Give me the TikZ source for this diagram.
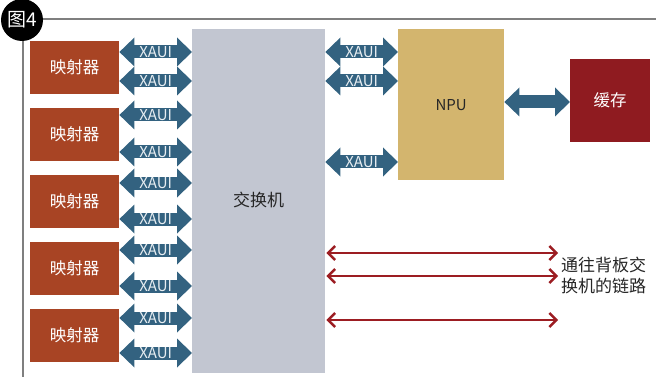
\documentclass[tikz,border=0pt]{standalone}
\usepackage{fontspec}
\setmainfont{Noto Sans CJK SC}
\usetikzlibrary{arrows.meta}
\definecolor{mapc}{HTML}{A84424}
\definecolor{swc}{HTML}{C2C6D1}
\definecolor{npuc}{HTML}{D3B56E}
\definecolor{cachec}{HTML}{8F1B20}
\definecolor{arrc}{HTML}{336280}
\definecolor{linkc}{HTML}{9C1D22}
\definecolor{framec}{HTML}{7F7F7F}
\definecolor{labc}{HTML}{E8EEF2}
\begin{document}
\begin{tikzpicture}[x=1pt,y=-1pt,
  box/.style={draw=none, inner sep=0pt, anchor=north west},
  mapbox/.style={box, fill=mapc, text=white, minimum width=89pt, minimum height=53pt, font=\fontsize{16.5}{18}\selectfont},
  xaui/.style={draw=arrc, line width=13pt, {Triangle[length=15pt,width=29pt,line width=0pt]}-{Triangle[length=15pt,width=29pt,line width=0pt]}, arrc},
  xlab/.style={text=labc, inner sep=0pt, font=\fontsize{15}{15}\selectfont},
  link/.style={draw=linkc, line width=2.4pt, {Straight Barb[length=7pt,width=14pt,line width=2.4pt]}-{Straight Barb[length=7pt,width=14pt,line width=2.4pt]}},
  frame/.style={draw=framec, line width=1.6pt}
]
\useasboundingbox (0,0) rectangle (656,377);
% frame and badge
\node[circle, fill=black, inner sep=0pt, minimum size=42pt, text=white, font=\fontsize{19}{19}\selectfont] (badge) at (22,20) {图4};
\coordinate (ftr) at (656,19);
\coordinate (fbl) at (23,377);
\draw[frame] (badge.east |- ftr) -- (ftr);
\draw[frame] (badge.south -| fbl) -- (fbl);
% main boxes
\node[box, fill=swc, minimum width=133pt, minimum height=344pt] (sw) at (192,29) {};
\node[font=\fontsize{17}{18}\selectfont, text=black!85] (swlab) at (258.5,200) {交换机};
\node[box, fill=npuc, minimum width=106pt, minimum height=151pt, font=\fontsize{15}{16}\selectfont, text=black!85] (npu) at (398,29) {NPU};
\node[box, fill=cachec, minimum width=80pt, minimum height=83pt, text=white, font=\fontsize{16.5}{18}\selectfont] (cache) at (570,59) {缓存};
% mappers
\node[mapbox] (m1) at (30,41) {映射器};
\node[mapbox] (m2) at (30,108) {映射器};
\node[mapbox] (m3) at (30,175) {映射器};
\node[mapbox] (m4) at (30,242) {映射器};
\node[mapbox] (m5) at (30,309) {映射器};
% XAUI links mappers -> switch
\draw[xaui] (m1.east |- 0,52) -- (sw.west |- 0,52) node[midway,xlab]{XAUI};
\draw[xaui] (m1.east |- 0,81) -- (sw.west |- 0,81) node[midway,xlab]{XAUI};
\draw[xaui] (m2.east |- 0,115) -- (sw.west |- 0,115) node[midway,xlab]{XAUI};
\draw[xaui] (m2.east |- 0,152) -- (sw.west |- 0,152) node[midway,xlab]{XAUI};
\draw[xaui] (m3.east |- 0,183) -- (sw.west |- 0,183) node[midway,xlab]{XAUI};
\draw[xaui] (m3.east |- 0,219) -- (sw.west |- 0,219) node[midway,xlab]{XAUI};
\draw[xaui] (m4.east |- 0,250) -- (sw.west |- 0,250) node[midway,xlab]{XAUI};
\draw[xaui] (m4.east |- 0,286) -- (sw.west |- 0,286) node[midway,xlab]{XAUI};
\draw[xaui] (m5.east |- 0,318) -- (sw.west |- 0,318) node[midway,xlab]{XAUI};
\draw[xaui] (m5.east |- 0,353) -- (sw.west |- 0,353) node[midway,xlab]{XAUI};
% switch -> NPU
\draw[xaui] (sw.east |- 0,52) -- (npu.west |- 0,52) node[midway,xlab]{XAUI};
\draw[xaui] (sw.east |- 0,81) -- (npu.west |- 0,81) node[midway,xlab]{XAUI};
\draw[xaui] (sw.east |- 0,162) -- (npu.west |- 0,162) node[midway,xlab]{XAUI};
% NPU -> cache
\draw[xaui] (npu.east |- 0,102) -- (cache.west |- 0,102);
% backplane links
\coordinate (l1) at (558,253);
\coordinate (l2) at (558,276);
\coordinate (l3) at (558,320);
\draw[link] ([xshift=1pt]sw.east |- l1) -- (l1);
\draw[link] ([xshift=1pt]sw.east |- l2) -- (l2);
\draw[link] ([xshift=1pt]sw.east |- l3) -- (l3);
\node[anchor=west, align=left, inner sep=0pt, text=black!85, font=\fontsize{17}{21}\selectfont] (bp) at (561,275) {通往背板交\\换机的链路};
\end{tikzpicture}
\end{document}
